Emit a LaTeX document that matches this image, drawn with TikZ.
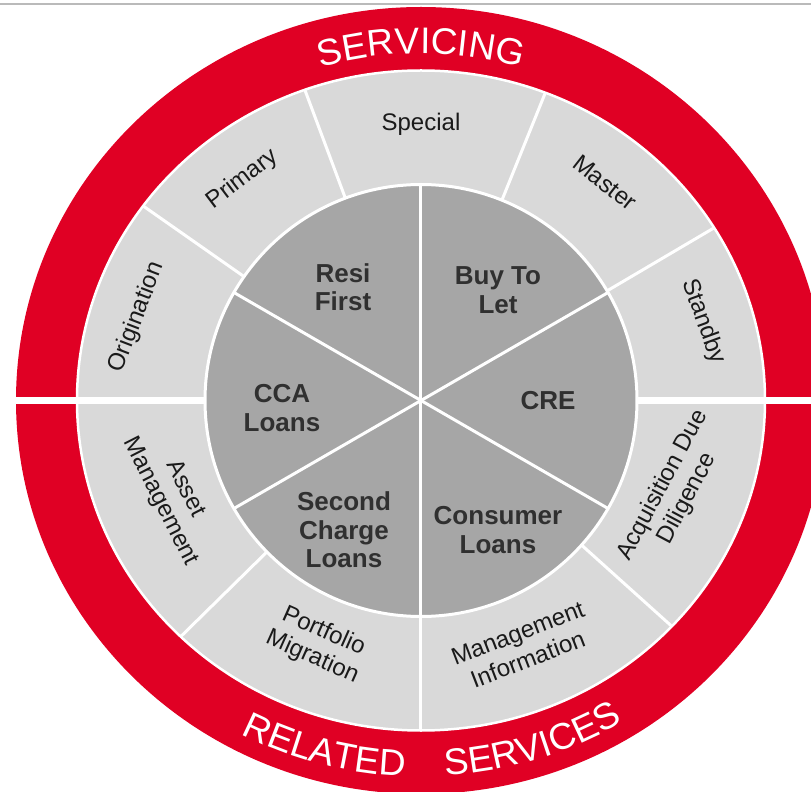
\documentclass[tikz,border=0pt]{standalone}
\usepackage{fontspec}
\setmainfont{Liberation Sans}
\usepackage{tikz}
\usetikzlibrary{decorations.text}
\definecolor{ringred}{RGB}{224,0,36}
\definecolor{ringgray}{RGB}{217,217,217}
\definecolor{piegray}{RGB}{166,166,166}
\definecolor{labeltext}{RGB}{26,26,26}
\definecolor{pietext}{RGB}{48,48,48}
\newcommand{\ringfont}{\fontsize{37}{37}\selectfont}
\tikzset{
every picture/.style={x=1pt, y=1pt},
%%%%%%%%%%  Node styles
ring_label/.style={text=labeltext, align=center, inner sep=0pt,
                   font=\fontsize{24}{28}\selectfont},
pie_label/.style={text=pietext, align=center, inner sep=0pt,
                  font=\bfseries\fontsize{26}{28.5}\selectfont},
%%%% different line styles:
rule/.style={draw=black!27, line width=1.5pt},
divider/.style={draw=white, line width=3pt},
thick_divider/.style={draw=white, line width=6.5pt},
%%%% text bent round the red ring
ring_text/.style={decorate, decoration={text along path, text align=center,
                  text color=white, text={|\ringfont|#1}}}
}

\begin{document}
\begin{tikzpicture}
\useasboundingbox (-421,-391.5) rectangle (390,400.5);
%% rule along the top
\draw[rule] (-421,396.5) -- (390,396.5);
%% red ring and grey ring
\fill[ringred] (0,0) ellipse [x radius=405, y radius=393.5];
\fill[ringgray] (0,0) ellipse [x radius=344, y radius=330];
\begin{scope}
\clip (0,0) ellipse [x radius=344, y radius=330];
\foreach \a in {145,110.5,68,30.5,224.5,270,318}
	\draw[divider] (\a:200) -- (\a:360);
\end{scope}
\draw[white, line width=2.5pt] (0,0) ellipse [x radius=344, y radius=330];
%% gap between the two halves
\draw[thick_divider] (-412,0) -- (412,0);
%%%%%%%%%%%%%%%%%%%%%%%%%%%%%%%%%%%%%%%%%%%%%%
%% inner pie
\fill[piegray] (0,0) circle (216);
\foreach \a in {30,90,...,330}
	\draw[divider] (0,0) -- (\a:216);
\draw[divider] (0,0) circle (216);
\node[pie_label] (resi) at (-78,113.5) {Resi\\First};
\node[pie_label] (buytolet) at (77,110.5) {Buy To\\Let};
\node[pie_label] (cre) at (127,0) {CRE};
\node[pie_label] (consumer) at (77,-129.5) {Consumer\\Loans};
\node[pie_label] (second) at (-77,-129.5) {Second\\Charge\\Loans};
\node[pie_label] (cca) at (-139,-7.5) {CCA\\Loans};
%%%%%%%%%%%%%%%%%%%%%%%%%%%%%%%%%%%%%%%%%%%%%%
%% servicing half
\node[ring_label, rotate=69] (origination) at (163.7:296) {Origination};
\node[ring_label, rotate=37] (primary) at (128.9:284) {Primary};
\node[ring_label] (special) at (90:276) {Special};
\node[ring_label, rotate=-38] (master) at (49.8:285) {Master};
\node[ring_label, rotate=-70] (standby) at (15.6:293) {Standby};
%% related services half
\node[ring_label, rotate=62] (acquisition) at (-19.8:270) {Acquisition Due\\Diligence};
\node[ring_label, rotate=21] (management) at (-67.5:266) {Management\\Information};
\node[ring_label, rotate=-24] (portfolio) at (-112.9:265) {Portfolio\\Migration};
\node[ring_label, rotate=-63] (asset) at (200.9:266) {Asset\\Management};
%%%%%%%%%%%%%%%%%%%%%%%%%%%%%%%%%%%%%%%%%%%%%%
%% ring titles
\path[ring_text={SERVICING}] (150:360 and 347)
	arc[start angle=150, end angle=30, x radius=360, y radius=347];
\path[ring_text={RELATED}] (235:389 and 376)
	arc[start angle=235, end angle=275, x radius=389, y radius=376];
\path[ring_text={SERVICES}] (267:389 and 376)
	arc[start angle=267, end angle=308, x radius=389, y radius=376];
\end{tikzpicture}
\end{document}
